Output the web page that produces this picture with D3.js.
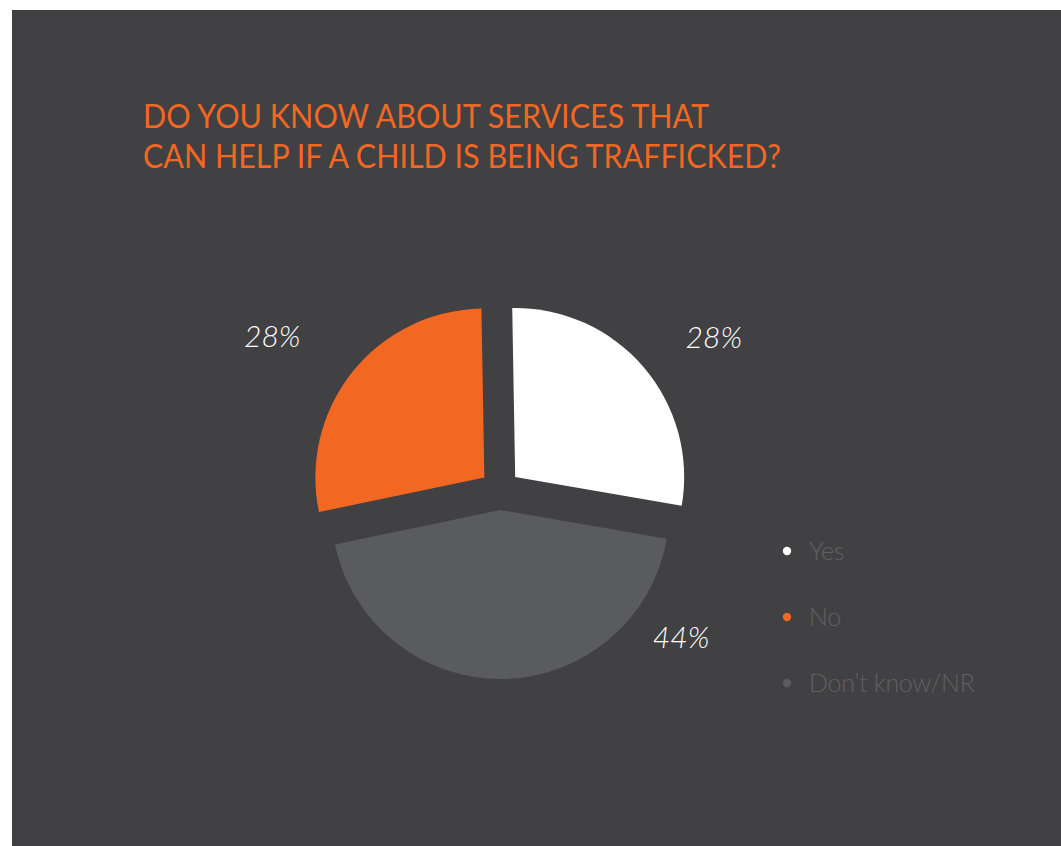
<!DOCTYPE html>
<html>
<head>
<meta charset="utf-8">
<script src="https://cdn.jsdelivr.net/npm/d3@7"></script>
<style>
  html, body { margin: 0; padding: 0; background: #ffffff; }
  svg { display: block; }
</style>
</head>
<body>
<svg id="chart" width="1061" height="846"></svg>
<script>
// Survey answers and their shares (percent)
const categories = ["Yes", "No", "Don\u2019t know/NR"];
const values = [28, 28, 44];
const valueLabels = ["28%", "28%", "44%"];
const titleLines = [
  "DO YOU KNOW ABOUT SERVICES THAT",
  "CAN HELP IF A CHILD IS BEING TRAFFICKED?"
];

// Slice drawing order around the pie (clockwise from 12 o'clock)
const pieOrder = ["Yes", "Don\u2019t know/NR", "No"];

const colors = {
  "Yes": "#ffffff",
  "No": "#f26722",
  "Don\u2019t know/NR": "#5a5b5d"
};

const W = 1061, H = 846;
const svg = d3.select("#chart");

// dark panel
svg.append("rect")
  .attr("x", 12).attr("y", 10)
  .attr("width", W - 12).attr("height", H - 10)
  .attr("fill", "#414042");

// title
const titleWidths = [566, 638];
svg.append("g").selectAll("text")
  .data(titleLines)
  .join("text")
  .attr("x", 143)
  .attr("y", (d, i) => 128 + i * 40)
  .attr("textLength", (d, i) => titleWidths[i])
  .attr("lengthAdjust", "spacingAndGlyphs")
  .attr("fill", "#f26722")
  .style("font-family", "Lato, 'Open Sans', sans-serif")
  .style("font-size", "33px")
  .style("font-weight", 400)
  .text(d => d);

// pie layout
const cx = 500, cy = 490;
const radius = 169;
const explode = 20;
const rotation = -1 * Math.PI / 180;

const data = pieOrder.map(c => ({ cat: c, value: values[categories.indexOf(c)], label: valueLabels[categories.indexOf(c)] }));

const pie = d3.pie()
  .sort(null)
  .value(d => d.value)
  .startAngle(rotation)
  .endAngle(rotation + 2 * Math.PI);

const arc = d3.arc().innerRadius(0).outerRadius(radius);
const arcs = pie(data);

const g = svg.append("g").attr("transform", `translate(${cx},${cy})`);

g.selectAll("path")
  .data(arcs)
  .join("path")
  .attr("transform", d => {
    const a = (d.startAngle + d.endAngle) / 2;
    return `translate(${explode * Math.sin(a)},${-explode * Math.cos(a)})`;
  })
  .attr("d", arc)
  .attr("fill", d => colors[d.data.cat]);

// value labels: offset angle (deg) from the slice bisector and distance from centre
const labelShift = { "Yes": 5, "No": -4.5, "Don\u2019t know/NR": -50 };
const labelRadius = { "Yes": 263, "No": 275, "Don\u2019t know/NR": 233 };

g.selectAll("text.val")
  .data(arcs)
  .join("text")
  .attr("class", "val")
  .attr("x", d => {
    const a = (d.startAngle + d.endAngle) / 2 + labelShift[d.data.cat] * Math.PI / 180;
    return labelRadius[d.data.cat] * Math.sin(a);
  })
  .attr("y", d => {
    const a = (d.startAngle + d.endAngle) / 2 + labelShift[d.data.cat] * Math.PI / 180;
    return -labelRadius[d.data.cat] * Math.cos(a) + 11;
  })
  .attr("text-anchor", "middle")
  .attr("fill", "#ffffff")
  .style("font-family", "Lato, 'Open Sans', sans-serif")
  .style("font-size", "30px")
  .style("font-style", "italic")
  .style("font-weight", 300)
  .text(d => d.data.label);

// legend
const legend = svg.append("g").attr("transform", "translate(787,551)");
const items = legend.selectAll("g")
  .data(categories)
  .join("g")
  .attr("transform", (d, i) => `translate(0,${i * 66})`);

items.append("circle")
  .attr("r", 4.2)
  .attr("fill", d => colors[d]);

items.append("text")
  .attr("x", 22)
  .attr("y", 9)
  .attr("fill", "#606062")
  .style("font-family", "Lato, 'Open Sans', sans-serif")
  .style("font-size", "25px")
  .style("letter-spacing", "-0.3px")
  .style("font-weight", 300)
  .text(d => d);
</script>
</body>
</html>
